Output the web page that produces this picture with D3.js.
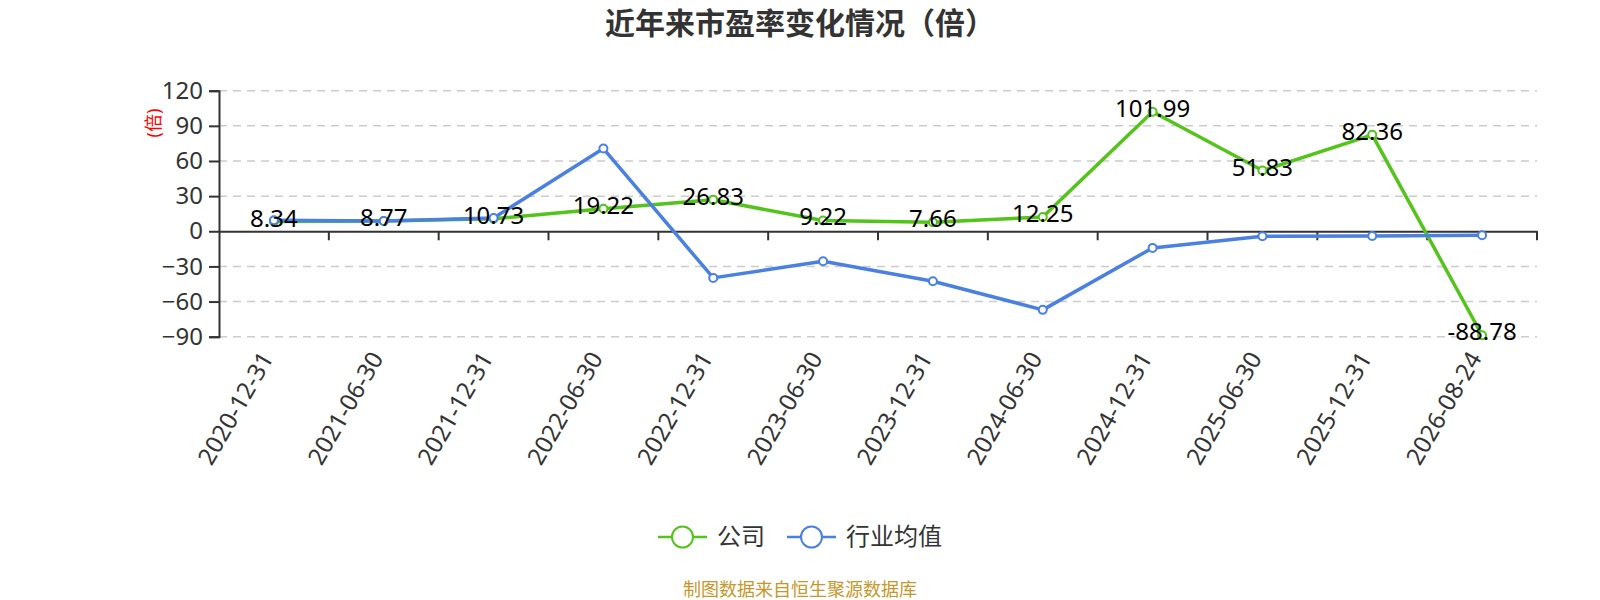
<!DOCTYPE html>
<html>
<head>
<meta charset="utf-8">
<script src="https://cdn.jsdelivr.net/npm/d3@7"></script>
<style>
  body { margin: 0; background: #fff; }
  text { font-family: "Noto Sans", "Noto Sans CJK SC", sans-serif; }
</style>
</head>
<body>
<div id="container"></div>
<script>
/* CONSTANTS AND GLOBALS */
const width = 1600;
const height = 600;
const margin = { top: 90.7, right: 63, bottom: 263.3, left: 219 };

/* DATA */
const dates = ['2020-12-31', '2021-06-30', '2021-12-31', '2022-06-30', '2022-12-31', '2023-06-30',
  '2023-12-31', '2024-06-30', '2024-12-31', '2025-06-30', '2025-12-31', '2026-08-24'];
const company = [8.34, 8.77, 10.73, 19.22, 26.83, 9.22, 7.66, 12.25, 101.99, 51.83, 82.36, -88.78];
const industry = [9.4, 8.8, 11.4, 70.6, -39.8, -25.6, -42.7, -67.1, -14.2, -4.3, -4.0, -3.4];
const yTicks = [-90, -60, -30, 0, 30, 60, 90, 120];
const seriesNames = ['公司', '行业均值'];
const colors = ['#52c41a', '#4a80e0'];

/* HTML ELEMENTS */
const svg = d3.select("#container")
  .append('svg')
  .attr("width", width)
  .attr("height", height)

/* SCALES */
const xScale = d3.scaleBand()
  .domain(dates)
  .range([margin.left, width - margin.right])

const yScale = d3.scaleLinear()
  .domain([-90, 120])
  .range([height - margin.bottom, margin.top])

const cx = d => xScale(d) + xScale.bandwidth() / 2

// title
svg.append("text")
  .attr("x", 800)
  .attr("y", 34)
  .attr("text-anchor", "middle")
  .style("font-size", "30px")
  .style("font-weight", "bold")
  .attr("fill", "#333")
  .text("近年来市盈率变化情况（倍）")

// grid lines
svg.append("g")
  .selectAll("line")
  .data(yTicks.filter(d => d !== 0))
  .join("line")
  .attr("x1", margin.left)
  .attr("x2", width - margin.right)
  .attr("y1", d => yScale(d))
  .attr("y2", d => yScale(d))
  .attr("stroke", "#ccc")
  .attr("stroke-width", 1.5)
  .attr("stroke-dasharray", "8,6")

/* Axes */
const yAxis = d3.axisLeft(yScale)
  .tickValues(yTicks)
  .tickSize(10)
  .tickPadding(6)

const yG = svg.append("g")
  .attr("transform", `translate(${margin.left},0)`)
  .call(yAxis)
yG.select(".domain").attr("stroke", "#333").attr("stroke-width", 2)
yG.selectAll(".tick line").attr("stroke", "#333").attr("stroke-width", 2)
yG.selectAll("text").style("font-size", "24px").attr("fill", "#333")

// x axis sits on zero
const xAxis = d3.axisBottom(xScale)
  .tickSize(0)
  .tickFormat("")
const xG = svg.append("g")
  .attr("transform", `translate(0,${yScale(0)})`)
  .call(xAxis)
xG.select(".domain").attr("stroke", "#333").attr("stroke-width", 2)

// ticks at band edges
const edges = dates.map(d => xScale(d)).concat([width - margin.right])
xG.selectAll("line.edge")
  .data(edges.slice(1))
  .join("line")
  .attr("class", "edge")
  .attr("x1", d => d)
  .attr("x2", d => d)
  .attr("y1", 0)
  .attr("y2", 9)
  .attr("stroke", "#333")
  .attr("stroke-width", 2)

// x labels at the bottom
svg.append("g")
  .selectAll("text")
  .data(dates)
  .join("text")
  .attr("transform", d => `translate(${cx(d) - 7},354) rotate(-60)`)
  .attr("text-anchor", "end")
  .attr("dy", "0.35em")
  .style("font-size", "24px")
  .attr("fill", "#333")
  .text(d => d)

// y axis name
svg.append("text")
  .attr("transform", "translate(154,123) rotate(-90)")
  .attr("text-anchor", "middle")
  .attr("dy", "0.35em")
  .style("font-size", "18px")
  .attr("fill", "red")
  .text("(倍)")

/* LINES */
const line = d3.line()
  .x((d, i) => cx(dates[i]))
  .y(d => yScale(d))

const allSeries = [company, industry]

svg.selectAll("path.series")
  .data(allSeries)
  .join("path")
  .attr("class", "series")
  .attr("d", d => line(d))
  .attr("fill", "none")
  .attr("stroke", (d, i) => colors[i])
  .attr("stroke-width", 3.5)
  .attr("stroke-linejoin", "round")

allSeries.forEach((s, k) => {
  svg.append("g")
    .selectAll("circle")
    .data(s)
    .join("circle")
    .attr("cx", (d, i) => cx(dates[i]))
    .attr("cy", d => yScale(d))
    .attr("r", 4)
    .attr("fill", "#fff")
    .attr("stroke", colors[k])
    .attr("stroke-width", 2)
})

// labels for company
svg.append("g")
  .selectAll("text")
  .data(company)
  .join("text")
  .attr("x", (d, i) => cx(dates[i]))
  .attr("y", d => yScale(d) + 5)
  .attr("text-anchor", "middle")
  .style("font-size", "24px")
  .attr("fill", "#000")
  .text(d => d.toFixed(2))

/* LEGEND */
const legendX = [658, 787];
const legend = svg.append("g")
  .selectAll("g")
  .data(seriesNames)
  .join("g")
  .attr("transform", (d, i) => `translate(${legendX[i]},537)`)

legend.append("line")
  .attr("x1", 0).attr("x2", 49)
  .attr("stroke", (d, i) => colors[i])
  .attr("stroke-width", 2.5)
legend.append("circle")
  .attr("cx", 24.5)
  .attr("r", 10.5)
  .attr("fill", "#fff")
  .attr("stroke", (d, i) => colors[i])
  .attr("stroke-width", 2)
legend.append("text")
  .attr("x", 59)
  .attr("dy", "0.35em")
  .style("font-size", "24px")
  .attr("fill", "#333")
  .text(d => d)

/* FOOTER */
svg.append("text")
  .attr("x", 800)
  .attr("y", 596)
  .attr("text-anchor", "middle")
  .style("font-size", "18px")
  .attr("fill", "#c8962a")
  .text("制图数据来自恒生聚源数据库")
</script>
</body>
</html>
